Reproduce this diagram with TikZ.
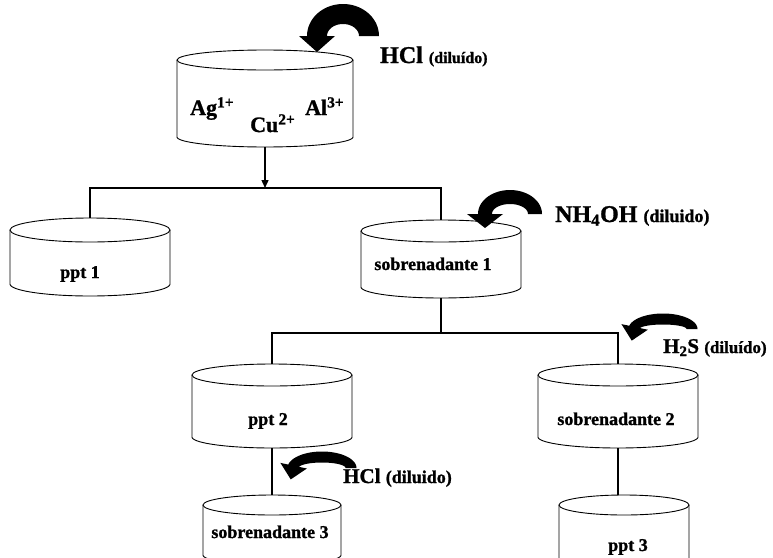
\documentclass[tikz,border=0pt]{standalone}
\usepackage{fontspec}
\setmainfont{Liberation Serif}[BoldFeatures={FakeBold=1.2}]
\usetikzlibrary{arrows.meta}

\tikzset{
  link/.style={line width=1.4pt, black},
  tankline/.style={line width=0.9pt, black},
  tankbox/.style={draw=none, inner sep=0pt, outer sep=0pt},
  tanktext/.style={font=\bfseries\fontsize{18}{20}\selectfont, inner sep=0pt, anchor=base},
  iontext/.style={font=\bfseries\fontsize{22}{24}\selectfont, inner sep=0pt, anchor=base west},
  reagent/.style={font=\bfseries, inner sep=0pt, anchor=base west},
}

% a vessel: name, centre x, top-ellipse y, body bottom y, x radius, y radius
\newcommand\drawtank[6]{%
  \node[tankbox, minimum width=2*#5pt, minimum height=(#4-#3+2*#6)*1pt] (#1) at (#2,{(#3+#4)/2}) {};
  \draw[tankline] (#2,#3) ellipse[x radius=#5, y radius=#6];
  \draw[tankline] (#2-#5,#3) -- (#2-#5,#4)
    -- plot[domain=180:360,samples=60] ({#2+#5*cos(\x)},{#4-#6*sin(\x)})
    -- (#2+#5,#3);
}

% thick bent arrow: centre x, centre y, x radius, y radius, band width,
% end angle, head overhang, head length
\newcommand\bentarrow[8]{%
  \pgfmathsetmacro\arOx{#3+#5/2}\pgfmathsetmacro\arOy{#4+#5/2}%
  \pgfmathsetmacro\arIx{#3-#5/2}\pgfmathsetmacro\arIy{#4-#5/2}%
  \pgfmathsetmacro\arPx{#1+#3*cos(#6)}\pgfmathsetmacro\arPy{#2-#4*sin(#6)}%
  \pgfmathsetmacro\arNx{cos(#6)}\pgfmathsetmacro\arNy{-sin(#6)}%
  \pgfmathsetmacro\arTx{-sin(#6)}\pgfmathsetmacro\arTy{-cos(#6)}%
  \pgfmathsetmacro\arHw{#5/2+#7}%
  \fill[black] plot[domain=0:#6,samples=50] ({#1+\arOx*cos(\x)},{#2-\arOy*sin(\x)})
    -- ({\arPx+\arHw*\arNx},{\arPy+\arHw*\arNy})
    -- ({\arPx+#8*\arTx},{\arPy+#8*\arTy})
    -- ({\arPx-\arHw*\arNx},{\arPy-\arHw*\arNy})
    -- plot[domain=#6:0,samples=50] ({#1+\arIx*cos(\x)},{#2-\arIy*sin(\x)})
    -- cycle;
}

\begin{document}
\begin{tikzpicture}[x=1pt,y=-1pt]
  \clip (0,0) rectangle (773,557);
  \fill[white] (0,0) rectangle (773,557);

  % vessels
  \drawtank{top}{265}{60}{137}{88}{10}
  \drawtank{ppt1}{90}{230}{284}{80}{12}
  \drawtank{sob1}{441}{231}{287}{80}{11}
  \drawtank{ppt2}{272}{375}{437}{80}{11}
  \drawtank{sob2}{618}{375}{437}{80}{11}
  \drawtank{sob3}{272}{505}{555}{69}{10}
  \drawtank{ppt3}{624}{505}{575}{65}{10}

  % contents
  \node[iontext] (ag) at (190,115) {Ag\textsuperscript{1+}};
  \node[iontext] (cu) at (250,132) {Cu\textsuperscript{2+}};
  \node[iontext] (al) at (305,115) {Al\textsuperscript{3+}};
  \node[tanktext] (l1) at (80,278) {ppt 1};
  \node[tanktext] (l2) at (433,270) {sobrenadante 1};
  \node[tanktext] (l3) at (268,425) {ppt 2};
  \node[tanktext] (l4) at (616,425) {sobrenadante 2};
  \node[tanktext] (l5) at (270,538) {sobrenadante 3};
  \node[tanktext] (l6) at (628,551) {ppt 3};

  % separation tree
  \coordinate (j1) at (265,188);
  \coordinate (j2) at (441,333);
  \draw[link,-{Triangle[length=8pt,width=7pt]}] (top.south) -- (top.south |- j1);
  \draw[link] (ppt1.north) |- (sob1.north |- j1) -- (sob1.north);
  \draw[link] (sob1.south) -- (sob1.south |- j2);
  \draw[link] (ppt2.north) |- (sob2.north |- j2) -- (sob2.north);
  \draw[link] (ppt2.south) -- (sob3.north);
  \draw[link] (sob2.south) -- (sob2.south |- ppt3.north);

  % reagents
  \bentarrow{343}{36}{26}{22}{20}{180}{8}{16}
  \bentarrow{510}{214}{25}{17}{14}{180}{11}{14}
  \bentarrow{663}{329}{29}{10}{11}{168}{8}{14}
  \bentarrow{322}{468}{29}{11}{11}{168}{8}{14}

  \node[reagent] (r1) at (380,63) {\fontsize{24}{26}\selectfont HCl \fontsize{16}{18}\selectfont(diluído)};
  \node[reagent] (r2) at (555,222) {\fontsize{24}{26}\selectfont NH\textsubscript{4}OH \fontsize{18}{20}\selectfont(diluido)};
  \node[reagent] (r3) at (663,353) {\fontsize{21}{23}\selectfont H\textsubscript{2}S \fontsize{17}{19}\selectfont(diluído)};
  \node[reagent] (r4) at (343,483) {\fontsize{21}{23}\selectfont HCl \fontsize{18}{20}\selectfont(diluido)};
\end{tikzpicture}
\end{document}
